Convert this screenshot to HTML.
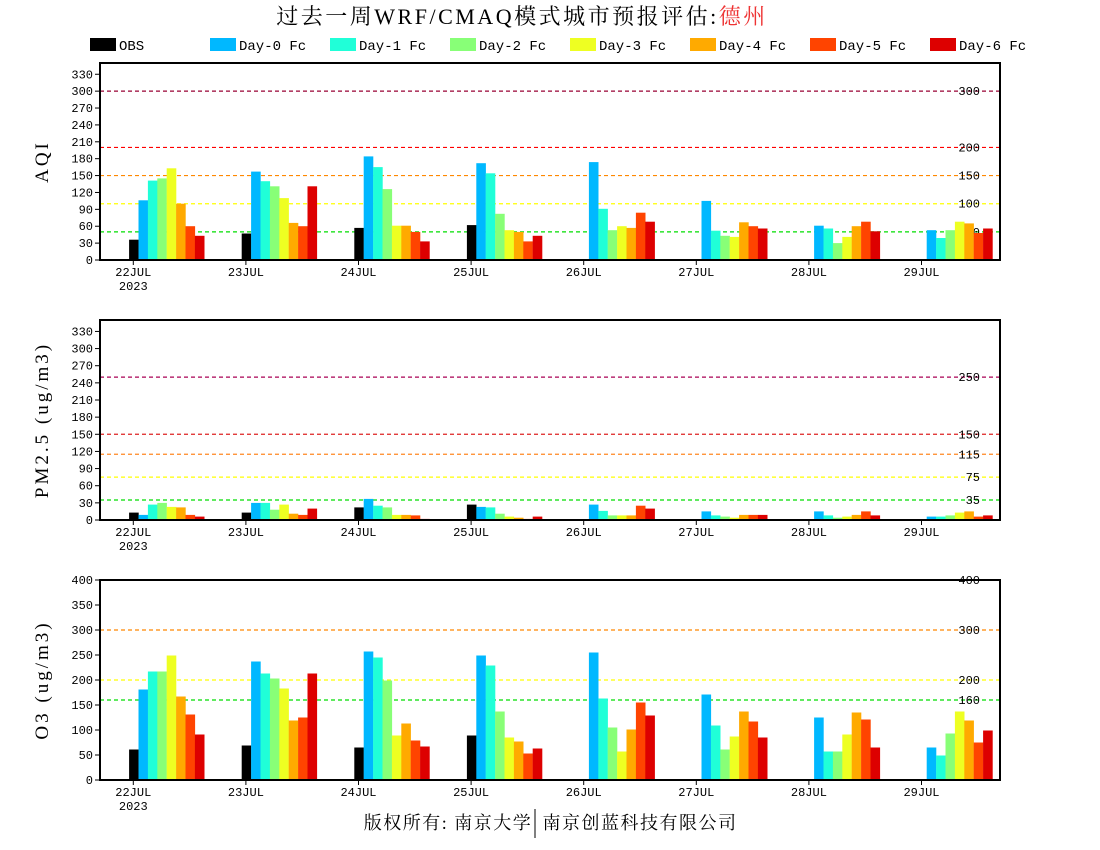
<!DOCTYPE html>
<html><head><meta charset="utf-8"><style>
html,body{margin:0;padding:0;background:#fff;}
svg{display:block;}
text{font-family:"Liberation Mono","Noto Sans CJK SC",monospace;}
text.sf{font-family:"Liberation Serif","Noto Serif CJK SC",serif;}
</style></head><body>
<svg id="s" width="1100" height="850" xmlns="http://www.w3.org/2000/svg"></svg>
<script>
var s=document.getElementById('s'),h='';
var C=['#000000','#00b8ff','#20ffd8','#88ff77','#eeff22','#ffaa00','#ff4400','#dd0000'];
h+='<text class="sf" x="522" y="24" text-anchor="middle" font-size="22" letter-spacing="2.5">过去一周WRF/CMAQ模式城市预报评估:<tspan fill="#ee3333">德州</tspan></text>';
var L=['OBS','Day-0 Fc','Day-1 Fc','Day-2 Fc','Day-3 Fc','Day-4 Fc','Day-5 Fc','Day-6 Fc'];
for(var i=0;i<8;i++){var x=90+120*i;h+='<rect x="'+x+'" y="38" width="26" height="13" fill="'+C[i]+'"/><text x="'+(x+29)+'" y="50" font-size="14">'+L[i]+'</text>';}
var N=null;
var P=[
{top:63,bot:260,max:350,ticks:[0,30,60,90,120,150,180,210,240,270,300,330],title:'AQI',
 refs:[[300,'#990033'],[200,'#ff0000'],[150,'#ff8800'],[100,'#ffff00'],[50,'#00dd00']],
 d:[[36,106,141,145,163,100,60,43],[47,157,140,131,110,66,60,131],[57,184,165,126,61,61,50,33],[62,172,154,82,53,50,33,43],
 [N,174,91,53,60,57,84,68],[N,105,52,43,41,67,60,56],[N,61,56,30,41,60,68,51],[N,53,39,53,68,65,48,56]]},
{top:320,bot:520,max:350,ticks:[0,30,60,90,120,150,180,210,240,270,300,330],title:'PM2.5 (ug/m3)',
 refs:[[250,'#aa0055'],[150,'#dd2222'],[115,'#ff8822'],[75,'#ffff00'],[35,'#00dd00']],
 d:[[13,9,27,30,23,22,9,6],[13,30,30,18,27,11,9,20],[22,37,25,22,9,9,8,2],[27,23,22,11,6,4,2,6],
 [N,27,16,8,8,8,25,20],[N,15,8,6,4,9,9,9],[N,15,8,4,6,9,15,8],[N,6,6,8,13,15,6,8]]},
{top:580,bot:780,max:400,ticks:[0,50,100,150,200,250,300,350,400],title:'O3 (ug/m3)',
 refs:[[400,'#ff0000'],[300,'#ff8800'],[200,'#ffff00'],[160,'#00dd00']],
 d:[[61,181,217,217,249,167,131,91],[69,237,213,203,183,119,125,213],[65,257,245,199,89,113,79,67],[89,249,229,137,85,77,53,63],
 [N,255,163,105,57,101,155,129],[N,171,109,61,87,137,117,85],[N,125,57,57,91,135,121,65],[N,65,49,93,137,119,75,99]]}
];
var days=['22JUL','23JUL','24JUL','25JUL','26JUL','27JUL','28JUL','29JUL'];
P.forEach(function(p){
 var k=(p.bot-p.top)/p.max;function Y(v){return p.bot-v*k;}
 p.refs.forEach(function(r){var y=Y(r[0]);h+='<line x1="100" x2="1000" y1="'+y+'" y2="'+y+'" stroke="'+r[1]+'" stroke-width="1.2" stroke-dasharray="4,3"/>';
  h+='<text x="980" y="'+(y+4)+'" font-size="12" text-anchor="end">'+r[0]+'</text>';});
 for(var g=0;g<8;g++){var t=133.3+112.6*g;
  for(var b=0;b<8;b++){var v=p.d[g][b];if(v==null)continue;var x=t-4.2+9.4*b;h+='<rect x="'+x.toFixed(1)+'" y="'+Y(v).toFixed(1)+'" width="9.6" height="'+(v*k).toFixed(1)+'" fill="'+C[b]+'"/>';}
  h+='<line x1="'+t+'" x2="'+t+'" y1="'+p.bot+'" y2="'+(p.bot+5)+'" stroke="#000"/>';
  h+='<text x="'+t+'" y="'+(p.bot+16)+'" font-size="12" text-anchor="middle">'+days[g]+'</text>';
  if(g==0)h+='<text x="'+t+'" y="'+(p.bot+30)+'" font-size="12" text-anchor="middle">2023</text>';}
 p.ticks.forEach(function(v){var y=Y(v);h+='<line x1="95" x2="100" y1="'+y+'" y2="'+y+'" stroke="#000"/><text x="93" y="'+(y+4)+'" font-size="12" text-anchor="end">'+v+'</text>';});
 h+='<rect x="100" y="'+p.top+'" width="900" height="'+(p.bot-p.top)+'" fill="none" stroke="#000" stroke-width="2"/>';
 var cy=(p.top+p.bot)/2;h+='<text class="sf" x="48" y="'+cy+'" font-size="19" letter-spacing="3" text-anchor="middle" transform="rotate(-90 48 '+cy+')">'+p.title+'</text>';
});
h+='<text class="sf" x="448" y="829" font-size="18" letter-spacing="1.5" text-anchor="middle">版权所有: 南京大学</text>';
h+='<line x1="535" x2="535" y1="809" y2="838" stroke="#000"/>';
h+='<text class="sf" x="640" y="829" font-size="18" letter-spacing="1.5" text-anchor="middle">南京创蓝科技有限公司</text>';
s.innerHTML=h;
</script>
</body></html>
